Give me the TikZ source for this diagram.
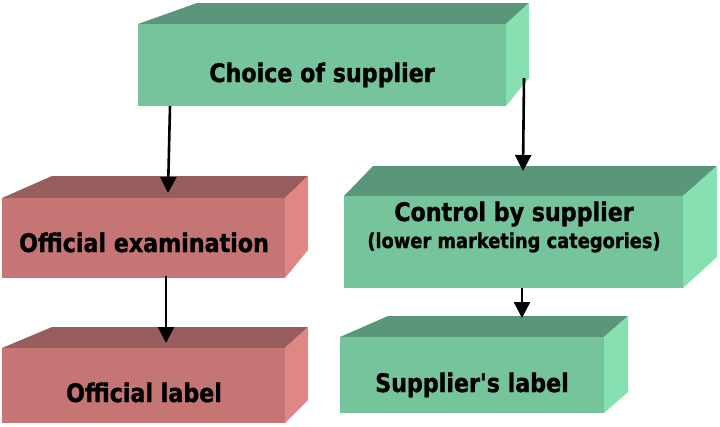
\documentclass[tikz,border=0pt]{standalone}
\usepackage{fontspec}
\newfontfamily\lblfont{DejaVu Sans}[FakeStretch=0.87, FakeBold=1.2]
\usetikzlibrary{arrows.meta}
\definecolor{gfront}{RGB}{118,196,156}
\definecolor{gtop}{RGB}{90,150,122}
\definecolor{gside}{RGB}{135,224,178}
\definecolor{rfront}{RGB}{196,117,116}
\definecolor{rtop}{RGB}{152,94,93}
\definecolor{rside}{RGB}{224,134,132}
\tikzset{
  face/.style={draw=none},
  lbl/.style={font=\lblfont\bfseries\fontsize{25.5}{30}\selectfont, text=black, anchor=base, inner sep=0pt},
  sublbl/.style={font=\lblfont\bfseries\fontsize{20.5}{24}\selectfont, text=black, anchor=base, inner sep=0pt},
  arr/.style={line width=2.6pt, -{Triangle[length=16pt,width=16pt]}},
}
\begin{document}
\begin{tikzpicture}[x=1pt,y=-1pt]
\useasboundingbox (0,0) rectangle (720,426);
\fill[white] (0,0) rectangle (720,426);
% Box 1
\fill[gtop] (138,24) -- (197,3) -- (529,3) -- (506,24) -- cycle;
\fill[gside] (506,24) -- (529,3) -- (529,78) -- (506,106) -- cycle;
\node[face, fill=gfront, minimum width=368pt, minimum height=82pt, inner sep=0pt] (b1) at (322,65) {};
% Box 2
\fill[rtop] (2,198) -- (52,176) -- (308,176) -- (285,198) -- cycle;
\fill[rside] (285,198) -- (308,176) -- (308,250) -- (285,278) -- cycle;
\node[face, fill=rfront, minimum width=283pt, minimum height=80pt, inner sep=0pt] (b2) at (143.5,238) {};
% Box 3
\fill[gtop] (344,196) -- (373,166) -- (717,166) -- (683,196) -- cycle;
\fill[gside] (683,196) -- (717,166) -- (717,257) -- (683,288) -- cycle;
\node[face, fill=gfront, minimum width=339pt, minimum height=92pt, inner sep=0pt] (b3) at (513.5,242) {};
% Box 4
\fill[rtop] (2,348) -- (52,327) -- (308,327) -- (285,348) -- cycle;
\fill[rside] (285,348) -- (308,327) -- (308,400) -- (285,423) -- cycle;
\node[face, fill=rfront, minimum width=283pt, minimum height=75pt, inner sep=0pt] (b4) at (143.5,385.5) {};
% Box 5
\fill[gtop] (340,337) -- (388,316) -- (628,316) -- (604,337) -- cycle;
\fill[gside] (604,337) -- (628,316) -- (628,392) -- (604,413) -- cycle;
\node[face, fill=gfront, minimum width=264pt, minimum height=76pt, inner sep=0pt] (b5) at (472,375) {};
% Labels
\node[lbl] (t1) at (322,82) {Choice of supplier};
\node[lbl] (t2) at (144,252) {Official examination};
\node[lbl] (t3) at (514,221) {Control by supplier};
\node[sublbl] (t3b) at (514,248) {(lower marketing categories)};
\node[lbl] (t4) at (144,402) {Official label};
\node[lbl] (t5) at (472,392) {Supplier's label};
% Connectors
\coordinate (s1) at (170,106);
\coordinate (e1) at (168,193);
\coordinate (s2) at (524,78);
\coordinate (e2) at (523,171);
\coordinate (s3) at (166,276);
\coordinate (e3) at (166,343);
\coordinate (s4) at (522,288);
\coordinate (e4) at (522,318);
\draw[arr] (s1) -- (e1);
\draw[arr] (s2) -- (e2);
\draw[arr] (s3) -- (e3);
\draw[arr] (s4) -- (e4);
\end{tikzpicture}
\end{document}
